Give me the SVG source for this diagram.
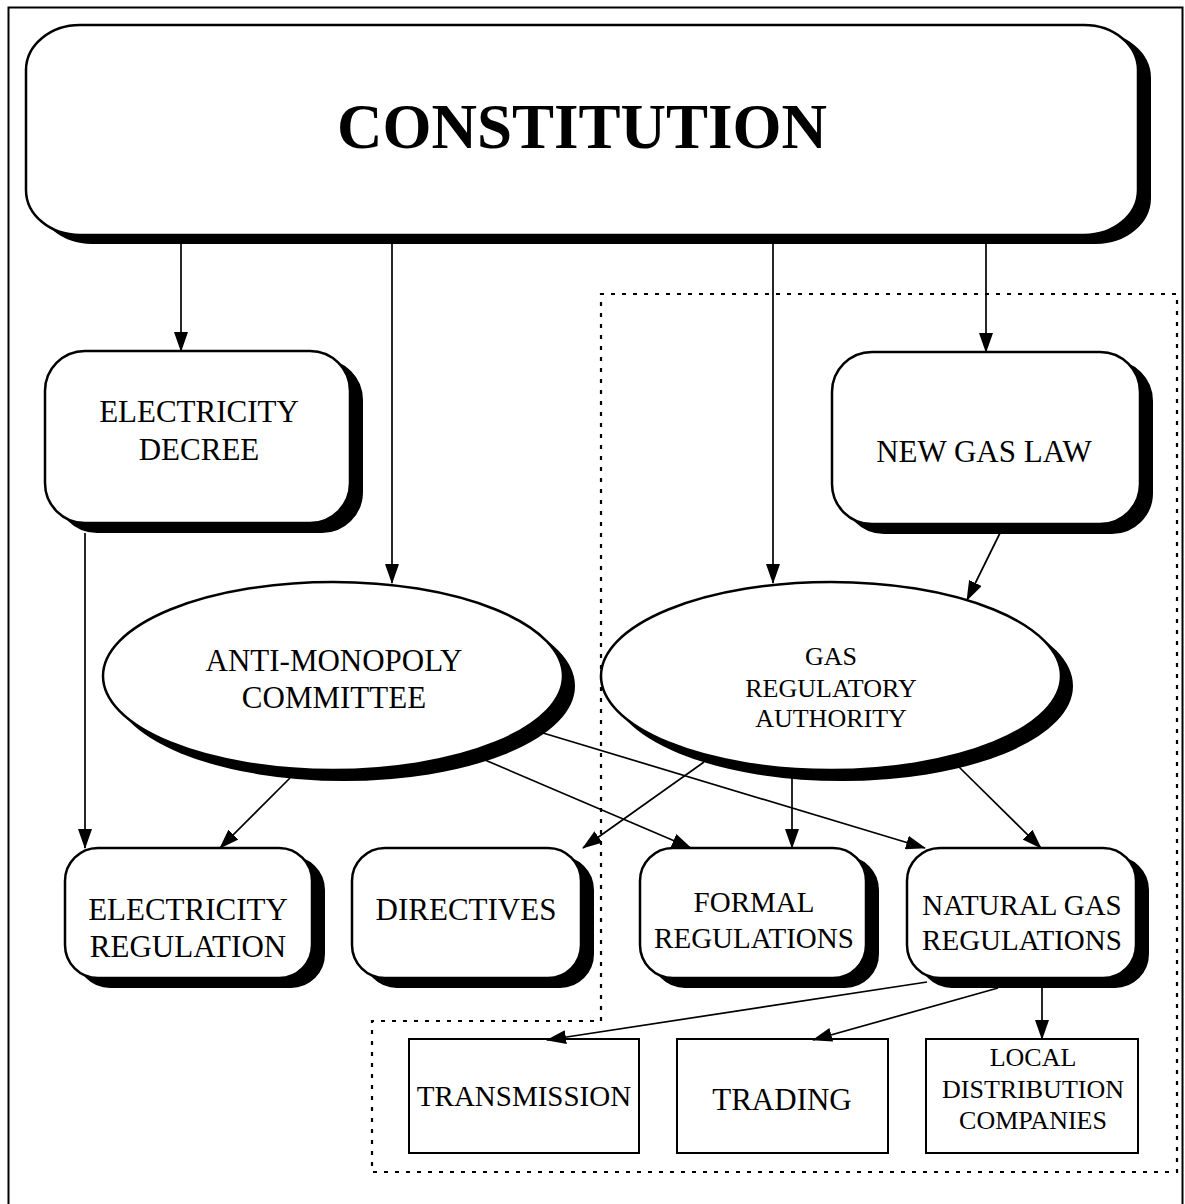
<svg xmlns="http://www.w3.org/2000/svg" width="1185" height="1204" viewBox="0 0 1185 1204">
<defs>
<marker id="ah" markerWidth="20" markerHeight="14" refX="19" refY="7" orient="auto" markerUnits="userSpaceOnUse">
<path d="M0,0 L20,7 L0,14 Z" fill="#000"/>
</marker>
</defs>
<style>
.t{font-family:"Liberation Serif","Times New Roman",serif;fill:#000;text-anchor:middle}
.box{fill:#fff;stroke:#000;stroke-width:2.5}
.sh{fill:#000;stroke:#000;stroke-width:2}
.rect{fill:#fff;stroke:#000;stroke-width:2}
.c{fill:none;stroke:#000;stroke-width:1.7;marker-end:url(#ah)}
.dot{fill:none;stroke:#000;stroke-width:2.2;stroke-dasharray:4 7}
</style>
<rect width="1185" height="1204" fill="#fff"/>
<rect x="8.5" y="7.5" width="1174" height="1210" fill="none" stroke="#000" stroke-width="2"/>
<path class="dot" d="M601,1021 L601,294 L1177,294 L1177,1172 L372,1172 L372,1021 Z"/>

<g id="constitution">
<rect class="sh" x="38" y="33" width="1112" height="210" rx="54" ry="45"/>
<rect class="box" x="26" y="25" width="1112" height="210" rx="54" ry="45"/>
<text class="t" x="582" y="148" font-size="63" font-weight="bold">CONSTITUTION</text>
</g>

<g id="electricity-decree">
<rect class="sh" x="57" y="360" width="305" height="172" rx="40" ry="40"/>
<rect class="box" x="45" y="351" width="305" height="172" rx="40" ry="40"/>
<text class="t" x="199" y="422" font-size="31">ELECTRICITY</text>
<text class="t" x="199" y="460" font-size="31">DECREE</text>
</g>

<g id="new-gas-law">
<rect class="sh" x="844" y="361" width="308" height="172" rx="40" ry="40"/>
<rect class="box" x="832" y="352" width="308" height="172" rx="40" ry="40"/>
<text class="t" x="984" y="462" font-size="31">NEW GAS LAW</text>
</g>

<g id="anti-monopoly">
<ellipse class="sh" cx="344" cy="686" rx="230" ry="94"/>
<ellipse class="box" cx="333" cy="676" rx="230" ry="94"/>
<text class="t" x="334" y="671" font-size="31">ANTI-MONOPOLY</text>
<text class="t" x="334" y="708" font-size="31">COMMITTEE</text>
</g>

<g id="gas-regulatory-authority">
<ellipse class="sh" cx="842" cy="686" rx="230" ry="94"/>
<ellipse class="box" cx="831" cy="676" rx="230" ry="94"/>
<text class="t" x="831" y="665" font-size="26">GAS</text>
<text class="t" x="831" y="697" font-size="26">REGULATORY</text>
<text class="t" x="831" y="727" font-size="26">AUTHORITY</text>
</g>

<g id="electricity-regulation">
<rect class="sh" x="77" y="857" width="247" height="130" rx="33" ry="33"/>
<rect class="box" x="65" y="848" width="247" height="130" rx="33" ry="33"/>
<text class="t" x="188" y="920" font-size="31">ELECTRICITY</text>
<text class="t" x="188" y="957" font-size="31">REGULATION</text>
</g>

<g id="directives">
<rect class="sh" x="364" y="857" width="229" height="130" rx="33" ry="33"/>
<rect class="box" x="352" y="848" width="229" height="130" rx="33" ry="33"/>
<text class="t" x="466" y="920" font-size="31">DIRECTIVES</text>
</g>

<g id="formal-regulations">
<rect class="sh" x="652" y="857" width="226" height="130" rx="33" ry="33"/>
<rect class="box" x="640" y="848" width="226" height="130" rx="33" ry="33"/>
<text class="t" x="754" y="912" font-size="29">FORMAL</text>
<text class="t" x="754" y="948" font-size="29">REGULATIONS</text>
</g>

<g id="natural-gas-regulations">
<rect class="sh" x="919" y="857" width="229" height="130" rx="33" ry="33"/>
<rect class="box" x="907" y="848" width="229" height="130" rx="33" ry="33"/>
<text class="t" x="1022" y="915" font-size="29">NATURAL GAS</text>
<text class="t" x="1022" y="950" font-size="29">REGULATIONS</text>
</g>

<g id="transmission">
<rect class="rect" x="409" y="1039" width="230" height="114"/>
<text class="t" x="524" y="1106" font-size="29">TRANSMISSION</text>
</g>

<g id="trading">
<rect class="rect" x="677" y="1039" width="211" height="114"/>
<text class="t" x="782" y="1110" font-size="31">TRADING</text>
</g>

<g id="local-distribution">
<rect class="rect" x="926" y="1039" width="212" height="114"/>
<text class="t" x="1033" y="1066" font-size="26">LOCAL</text>
<text class="t" x="1033" y="1098" font-size="26">DISTRIBUTION</text>
<text class="t" x="1033" y="1129" font-size="26">COMPANIES</text>
</g>

<g id="connectors">
<path class="c" d="M181,243 L181,351"/>
<path class="c" d="M392,243 L392,583"/>
<path class="c" d="M773,243 L773,583"/>
<path class="c" d="M986,243 L986,352"/>
<path class="c" d="M1000,533 L967,600"/>
<path class="c" d="M85,533 L85,848"/>
<path class="c" d="M290,778 L220,848"/>
<path class="c" d="M485,760 L691,848"/>
<path class="c" d="M543,733 L925,848"/>
<path class="c" d="M704,762 L583,848"/>
<path class="c" d="M792,778 L792,848"/>
<path class="c" d="M959,767 L1041,848"/>
<path class="c" d="M927,982 L547,1040"/>
<path class="c" d="M998,988 L813,1040"/>
<path class="c" d="M1042,988 L1042,1039"/>
</g>
</svg>
